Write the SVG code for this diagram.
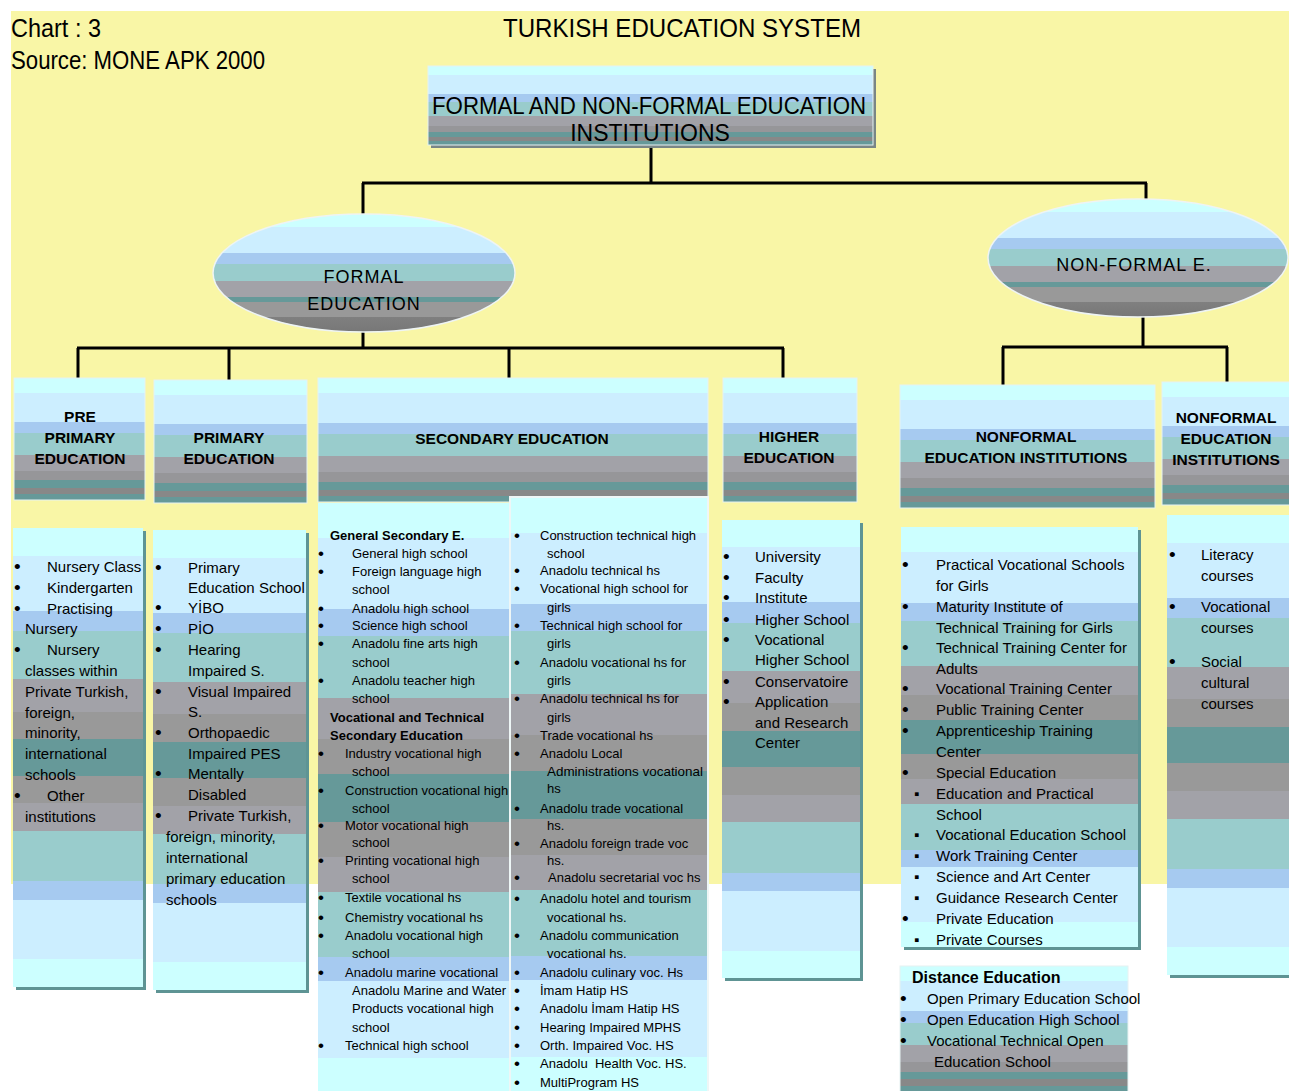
<svg xmlns="http://www.w3.org/2000/svg" width="1289" height="1091" viewBox="0 0 1289 1091">
<defs>
<linearGradient id="hg" x1="0" y1="0" x2="0" y2="1">
<stop offset="0" stop-color="#ccffff"/><stop offset=".12" stop-color="#ccffff"/>
<stop offset=".12" stop-color="#cceeff"/><stop offset=".36" stop-color="#cceeff"/>
<stop offset=".36" stop-color="#a6caf0"/><stop offset=".45" stop-color="#a6caf0"/>
<stop offset=".45" stop-color="#99cccc"/><stop offset=".63" stop-color="#99cccc"/>
<stop offset=".63" stop-color="#a2a2a8"/><stop offset=".76" stop-color="#a2a2a8"/>
<stop offset=".76" stop-color="#969699"/><stop offset=".84" stop-color="#969699"/>
<stop offset=".84" stop-color="#669999"/><stop offset=".9" stop-color="#669999"/>
<stop offset=".9" stop-color="#888888"/><stop offset=".95" stop-color="#888888"/>
<stop offset=".95" stop-color="#669999"/><stop offset="1" stop-color="#669999"/>
</linearGradient>
<linearGradient id="eg" x1="0" y1="0" x2="0" y2="1">
<stop offset="0" stop-color="#ccffff"/><stop offset=".11" stop-color="#ccffff"/>
<stop offset=".11" stop-color="#cceeff"/><stop offset=".33" stop-color="#cceeff"/>
<stop offset=".33" stop-color="#a6caf0"/><stop offset=".42" stop-color="#a6caf0"/>
<stop offset=".42" stop-color="#99cccc"/><stop offset=".57" stop-color="#99cccc"/>
<stop offset=".57" stop-color="#a2a2a8"/><stop offset=".7" stop-color="#a2a2a8"/>
<stop offset=".7" stop-color="#669999"/><stop offset=".75" stop-color="#669999"/>
<stop offset=".75" stop-color="#999999"/><stop offset=".87" stop-color="#999999"/>
<stop offset=".87" stop-color="#808080"/><stop offset="1" stop-color="#777777"/>
</linearGradient>
<linearGradient id="lg" x1="0" y1="0" x2="0" y2="1">
<stop offset="0" stop-color="#ccffff"/><stop offset=".06" stop-color="#ccffff"/>
<stop offset=".06" stop-color="#cceeff"/><stop offset=".18" stop-color="#cceeff"/>
<stop offset=".18" stop-color="#a6caf0"/><stop offset=".225" stop-color="#a6caf0"/>
<stop offset=".225" stop-color="#99cccc"/><stop offset=".33" stop-color="#99cccc"/>
<stop offset=".33" stop-color="#a2a2a8"/><stop offset=".4" stop-color="#a2a2a8"/>
<stop offset=".4" stop-color="#999999"/><stop offset=".46" stop-color="#999999"/>
<stop offset=".46" stop-color="#669999"/><stop offset=".54" stop-color="#669999"/>
<stop offset=".54" stop-color="#999999"/><stop offset=".6" stop-color="#999999"/>
<stop offset=".6" stop-color="#a2a2a8"/><stop offset=".66" stop-color="#a2a2a8"/>
<stop offset=".66" stop-color="#99cccc"/><stop offset=".77" stop-color="#99cccc"/>
<stop offset=".77" stop-color="#a6caf0"/><stop offset=".81" stop-color="#a6caf0"/>
<stop offset=".81" stop-color="#cceeff"/><stop offset=".94" stop-color="#cceeff"/>
<stop offset=".94" stop-color="#ccffff"/><stop offset="1" stop-color="#ccffff"/>
</linearGradient>
</defs>
<style>
text{font-family:"Liberation Sans",Arial,sans-serif;fill:#000}
.big{font-size:25px}
.tb{font-size:23px;text-anchor:middle}
.el{font-size:18px;text-anchor:middle;letter-spacing:1px}
.h{font-size:15.5px;font-weight:bold;text-anchor:middle}
.li{font-size:15px}
.ls{font-size:13px}
.li .bu{font-size:19px}
.ls .bu{font-size:17px}
.bd{font-weight:bold}
.hb{fill:url(#hg);stroke:#e6f2f2;stroke-width:1}
.lb{fill:url(#lg)}
.sh{fill:#5e9494}
</style>
<rect width="1289" height="1091" fill="#ffffff"/>
<rect x="11" y="11" width="1278" height="873" fill="#f9f6a6"/>

<g id="titles">
<text class="big" x="11" y="37" textLength="90" lengthAdjust="spacingAndGlyphs">Chart : 3</text>
<text class="big" x="11" y="69" textLength="254" lengthAdjust="spacingAndGlyphs">Source: MONE APK 2000</text>
<text class="big" x="503" y="37" textLength="358" lengthAdjust="spacingAndGlyphs">TURKISH EDUCATION SYSTEM</text>
</g>

<g id="connectors" stroke="#000" stroke-width="3" fill="none">
<path d="M651 146 V183 M362 183 H1147 M363 183 V215 M1146 183 V200"/>
<path d="M363 330 V348 M77 348 H784 M78 348 V379 M229 348 V381 M509 348 V379 M783 348 V379"/>
<path d="M1143 316 V347 M1002 347 H1228 M1003 347 V386 M1227 347 V383"/>
</g>

<g id="top">
<rect x="431" y="69" width="445" height="79" fill="#7a8686"/>
<rect class="hb" x="428" y="66" width="445" height="79"/>
<text class="tb" x="432" y="114" style="text-anchor:start" textLength="434" lengthAdjust="spacingAndGlyphs">FORMAL AND NON-FORMAL EDUCATION</text>
<text class="tb" x="650" y="141">INSTITUTIONS</text>
</g>

<g id="formal">
<ellipse cx="364" cy="273" rx="151" ry="59" fill="url(#eg)" stroke="#eef4f4" stroke-width="1.5"/>
<text class="el" x="364" y="283">FORMAL</text>
<text class="el" x="364" y="310">EDUCATION</text>
</g>

<g id="nonformal">
<ellipse cx="1138" cy="258" rx="150" ry="59" fill="url(#eg)" stroke="#eef4f4" stroke-width="1.5"/>
<text class="el" x="1134" y="271">NON-FORMAL E.</text>
</g>

<g id="preprimary-head">
<rect class="hb" x="14" y="378" width="131" height="122"/>
<text class="h" x="80" y="422">PRE</text>
<text class="h" x="80" y="443">PRIMARY</text>
<text class="h" x="80" y="464">EDUCATION</text>
</g>

<g id="primary-head">
<rect class="hb" x="154" y="380" width="153" height="123"/>
<text class="h" x="229" y="443">PRIMARY</text>
<text class="h" x="229" y="464">EDUCATION</text>
</g>

<g id="secondary-head">
<rect class="hb" x="318" y="378" width="390" height="124"/>
<text class="h" x="512" y="444">SECONDARY EDUCATION</text>
</g>

<g id="higher-head">
<rect class="hb" x="723" y="378" width="134" height="124"/>
<text class="h" x="789" y="442">HIGHER</text>
<text class="h" x="789" y="463">EDUCATION</text>
</g>

<g id="nonformal-inst-head">
<rect class="hb" x="900" y="385" width="255" height="123"/>
<text class="h" x="1026" y="442">NONFORMAL</text>
<text class="h" x="1026" y="463">EDUCATION INSTITUTIONS</text>
</g>

<g id="nonformal-inst-head-2">
<rect class="hb" x="1162" y="382" width="130" height="123"/>
<text class="h" x="1226" y="423">NONFORMAL</text>
<text class="h" x="1226" y="444">EDUCATION</text>
<text class="h" x="1226" y="465">INSTITUTIONS</text>
</g>

<g id="preprimary-list">
<rect class="sh" x="16" y="531" width="130" height="459"/>
<rect class="lb" x="13" y="528" width="130" height="459"/>
<text class="li">
<tspan class="bu" x="14" y="573">•</tspan><tspan x="47" y="572">Nursery Class</tspan>
<tspan class="bu" x="14" y="594">•</tspan><tspan x="47" y="593">Kindergarten</tspan>
<tspan class="bu" x="14" y="615">•</tspan><tspan x="47" y="614">Practising</tspan>
<tspan x="25" y="634">Nursery</tspan>
<tspan class="bu" x="14" y="656">•</tspan><tspan x="47" y="655">Nursery</tspan>
<tspan x="25" y="676">classes within</tspan>
<tspan x="25" y="697">Private Turkish,</tspan>
<tspan x="25" y="718">foreign,</tspan>
<tspan x="25" y="738">minority,</tspan>
<tspan x="25" y="759">international</tspan>
<tspan x="25" y="780">schools</tspan>
<tspan class="bu" x="14" y="802">•</tspan><tspan x="47" y="801">Other</tspan>
<tspan x="25" y="822">institutions</tspan>
</text>
</g>

<g id="primary-list">
<rect class="sh" x="156" y="533" width="153" height="460"/>
<rect class="lb" x="153" y="530" width="153" height="460"/>
<text class="li">
<tspan class="bu" x="155" y="574">•</tspan><tspan x="188" y="573">Primary</tspan>
<tspan x="188" y="593">Education School</tspan>
<tspan class="bu" x="155" y="614">•</tspan><tspan x="188" y="613">YİBO</tspan>
<tspan class="bu" x="155" y="635">•</tspan><tspan x="188" y="634">PİO</tspan>
<tspan class="bu" x="155" y="656">•</tspan><tspan x="188" y="655">Hearing</tspan>
<tspan x="188" y="676">Impaired S.</tspan>
<tspan class="bu" x="155" y="698">•</tspan><tspan x="188" y="697">Visual Impaired</tspan>
<tspan x="188" y="717">S.</tspan>
<tspan class="bu" x="155" y="739">•</tspan><tspan x="188" y="738">Orthopaedic</tspan>
<tspan x="188" y="759">Impaired PES</tspan>
<tspan class="bu" x="155" y="780">•</tspan><tspan x="188" y="779">Mentally</tspan>
<tspan x="188" y="800">Disabled</tspan>
<tspan class="bu" x="155" y="822">•</tspan><tspan x="188" y="821">Private Turkish,</tspan>
<tspan x="166" y="842">foreign, minority,</tspan>
<tspan x="166" y="863">international</tspan>
<tspan x="166" y="884">primary education</tspan>
<tspan x="166" y="905">schools</tspan>
</text>
</g>

<g id="secondary-list-1">
<rect class="lb" x="318" y="503" width="192" height="590"/>
<text class="ls">
<tspan class="bd" x="330" y="540">General Secondary E.</tspan>
<tspan class="bu" x="318" y="559">•</tspan><tspan x="352" y="558">General high school</tspan>
<tspan class="bu" x="318" y="577">•</tspan><tspan x="352" y="576">Foreign language high</tspan>
<tspan x="352" y="594">school</tspan>
<tspan class="bu" x="318" y="614">•</tspan><tspan x="352" y="613">Anadolu high school</tspan>
<tspan class="bu" x="318" y="631">•</tspan><tspan x="352" y="630">Science high school</tspan>
<tspan class="bu" x="318" y="649">•</tspan><tspan x="352" y="648">Anadolu fine arts high</tspan>
<tspan x="352" y="667">school</tspan>
<tspan class="bu" x="318" y="686">•</tspan><tspan x="352" y="685">Anadolu teacher high</tspan>
<tspan x="352" y="703">school</tspan>
<tspan class="bd" x="330" y="722">Vocational and Technical</tspan>
<tspan class="bd" x="330" y="740">Secondary Education</tspan>
<tspan class="bu" x="318" y="759">•</tspan><tspan x="345" y="758">Industry vocational high</tspan>
<tspan x="352" y="776">school</tspan>
<tspan class="bu" x="318" y="796">•</tspan><tspan x="345" y="795">Construction vocational high</tspan>
<tspan x="352" y="813">school</tspan>
<tspan class="bu" x="318" y="831">•</tspan><tspan x="345" y="830">Motor vocational high</tspan>
<tspan x="352" y="847">school</tspan>
<tspan class="bu" x="318" y="866">•</tspan><tspan x="345" y="865">Printing vocational high</tspan>
<tspan x="352" y="883">school</tspan>
<tspan class="bu" x="318" y="903">•</tspan><tspan x="345" y="902">Textile vocational hs</tspan>
<tspan class="bu" x="318" y="923">•</tspan><tspan x="345" y="922">Chemistry vocational hs</tspan>
<tspan class="bu" x="318" y="941">•</tspan><tspan x="345" y="940">Anadolu vocational high</tspan>
<tspan x="352" y="958">school</tspan>
<tspan class="bu" x="318" y="978">•</tspan><tspan x="345" y="977">Anadolu marine vocational</tspan>
<tspan x="352" y="995">Anadolu Marine and Water</tspan>
<tspan x="352" y="1013">Products vocational high</tspan>
<tspan x="352" y="1032">school</tspan>
<tspan class="bu" x="318" y="1051">•</tspan><tspan x="345" y="1050">Technical high school</tspan>
</text>
</g>

<g id="secondary-list-2">
<rect class="lb" x="510" y="497" width="198" height="596" stroke="#eef6f6" stroke-width="2"/>
<text class="ls">
<tspan class="bu" x="514" y="541">•</tspan><tspan x="540" y="540">Construction technical high</tspan>
<tspan x="547" y="558">school</tspan>
<tspan class="bu" x="514" y="576">•</tspan><tspan x="540" y="575">Anadolu technical hs</tspan>
<tspan class="bu" x="514" y="594">•</tspan><tspan x="540" y="593">Vocational high school for</tspan>
<tspan x="547" y="612">girls</tspan>
<tspan class="bu" x="514" y="631">•</tspan><tspan x="540" y="630">Technical high school for</tspan>
<tspan x="547" y="648">girls</tspan>
<tspan class="bu" x="514" y="668">•</tspan><tspan x="540" y="667">Anadolu vocational hs for</tspan>
<tspan x="547" y="685">girls</tspan>
<tspan class="bu" x="514" y="704">•</tspan><tspan x="540" y="703">Anadolu technical hs for</tspan>
<tspan x="547" y="722">girls</tspan>
<tspan class="bu" x="514" y="741">•</tspan><tspan x="540" y="740">Trade vocational hs</tspan>
<tspan class="bu" x="514" y="759">•</tspan><tspan x="540" y="758">Anadolu Local</tspan>
<tspan x="547" y="776" textLength="156" lengthAdjust="spacingAndGlyphs">Administrations vocational</tspan>
<tspan x="547" y="793">hs</tspan>
<tspan class="bu" x="514" y="814">•</tspan><tspan x="540" y="813">Anadolu trade vocational</tspan>
<tspan x="547" y="830">hs.</tspan>
<tspan class="bu" x="514" y="849">•</tspan><tspan x="540" y="848">Anadolu foreign trade voc</tspan>
<tspan x="547" y="865">hs.</tspan>
<tspan class="bu" x="514" y="883">•</tspan><tspan x="548" y="882">Anadolu secretarial voc hs</tspan>
<tspan class="bu" x="514" y="904">•</tspan><tspan x="540" y="903">Anadolu hotel and tourism</tspan>
<tspan x="547" y="922">vocational hs.</tspan>
<tspan class="bu" x="514" y="941">•</tspan><tspan x="540" y="940">Anadolu communication</tspan>
<tspan x="547" y="958">vocational hs.</tspan>
<tspan class="bu" x="514" y="978">•</tspan><tspan x="540" y="977">Anadolu culinary voc. Hs</tspan>
<tspan class="bu" x="514" y="996">•</tspan><tspan x="540" y="995">İmam Hatip HS</tspan>
<tspan class="bu" x="514" y="1014">•</tspan><tspan x="540" y="1013">Anadolu İmam Hatip HS</tspan>
<tspan class="bu" x="514" y="1033">•</tspan><tspan x="540" y="1032">Hearing Impaired MPHS</tspan>
<tspan class="bu" x="514" y="1051">•</tspan><tspan x="540" y="1050">Orth. Impaired Voc. HS</tspan>
<tspan class="bu" x="514" y="1069">•</tspan><tspan x="540" y="1068">Anadolu&#160; Health Voc. HS.</tspan>
<tspan class="bu" x="514" y="1088">•</tspan><tspan x="540" y="1087">MultiProgram HS</tspan>
</text>
</g>

<g id="higher-list">
<rect class="sh" x="725" y="523" width="138" height="458"/>
<rect class="lb" x="722" y="520" width="138" height="458"/>
<text class="li">
<tspan class="bu" x="723" y="563">•</tspan><tspan x="755" y="562">University</tspan>
<tspan class="bu" x="723" y="584">•</tspan><tspan x="755" y="583">Faculty</tspan>
<tspan class="bu" x="723" y="604">•</tspan><tspan x="755" y="603">Institute</tspan>
<tspan class="bu" x="723" y="626">•</tspan><tspan x="755" y="625">Higher School</tspan>
<tspan class="bu" x="723" y="646">•</tspan><tspan x="755" y="645">Vocational</tspan>
<tspan x="755" y="665">Higher School</tspan>
<tspan class="bu" x="723" y="688">•</tspan><tspan x="755" y="687">Conservatoire</tspan>
<tspan class="bu" x="723" y="708">•</tspan><tspan x="755" y="707">Application</tspan>
<tspan x="755" y="728">and Research</tspan>
<tspan x="755" y="748">Center</tspan>
</text>
</g>

<g id="nonformal-list">
<rect class="sh" x="904" y="530" width="237" height="420"/>
<rect class="lb" x="901" y="527" width="237" height="420"/>
<text class="li">
<tspan class="bu" x="902" y="571">•</tspan><tspan x="936" y="570">Practical Vocational Schools</tspan>
<tspan x="936" y="591">for Girls</tspan>
<tspan class="bu" x="902" y="613">•</tspan><tspan x="936" y="612">Maturity Institute of</tspan>
<tspan x="936" y="633">Technical Training for Girls</tspan>
<tspan class="bu" x="902" y="654">•</tspan><tspan x="936" y="653">Technical Training Center for</tspan>
<tspan x="936" y="674">Adults</tspan>
<tspan class="bu" x="902" y="695">•</tspan><tspan x="936" y="694">Vocational Training Center</tspan>
<tspan class="bu" x="902" y="716">•</tspan><tspan x="936" y="715">Public Training Center</tspan>
<tspan class="bu" x="902" y="737">•</tspan><tspan x="936" y="736">Apprenticeship Training</tspan>
<tspan x="936" y="757">Center</tspan>
<tspan class="bu" x="902" y="779">•</tspan><tspan x="936" y="778">Special Education</tspan>
<tspan x="914" y="799">▪</tspan><tspan x="936" y="799">Education and Practical</tspan>
<tspan x="936" y="820">School</tspan>
<tspan x="914" y="840">▪</tspan><tspan x="936" y="840">Vocational Education School</tspan>
<tspan x="914" y="861">▪</tspan><tspan x="936" y="861">Work Training Center</tspan>
<tspan x="914" y="882">▪</tspan><tspan x="936" y="882">Science and Art Center</tspan>
<tspan x="914" y="903">▪</tspan><tspan x="936" y="903">Guidance Research Center</tspan>
<tspan class="bu" x="902" y="925">•</tspan><tspan x="936" y="924">Private Education</tspan>
<tspan x="914" y="945">▪</tspan><tspan x="936" y="945">Private Courses</tspan>
</text>
</g>

<g id="nonformal-list-2">
<rect class="sh" x="1170" y="518" width="122" height="460"/>
<rect class="lb" x="1167" y="515" width="122" height="460"/>
<text class="li">
<tspan class="bu" x="1169" y="561">•</tspan><tspan x="1201" y="560">Literacy</tspan>
<tspan x="1201" y="581">courses</tspan>
<tspan class="bu" x="1169" y="613">•</tspan><tspan x="1201" y="612">Vocational</tspan>
<tspan x="1201" y="633">courses</tspan>
<tspan class="bu" x="1169" y="668">•</tspan><tspan x="1201" y="667">Social</tspan>
<tspan x="1201" y="688">cultural</tspan>
<tspan x="1201" y="709">courses</tspan>
</text>
</g>

<g id="distance-education">
<rect class="hb" x="900" y="966" width="228" height="126"/>
<text class="li">
<tspan class="bd" x="912" y="983" style="font-size:16px">Distance Education</tspan>
<tspan class="bu" x="900" y="1005">•</tspan><tspan x="927" y="1004">Open Primary Education School</tspan>
<tspan class="bu" x="900" y="1026">•</tspan><tspan x="927" y="1025">Open Education High School</tspan>
<tspan class="bu" x="900" y="1047">•</tspan><tspan x="927" y="1046">Vocational Technical Open</tspan>
<tspan x="934" y="1067">Education School</tspan>
</text>
</g>
</svg>
